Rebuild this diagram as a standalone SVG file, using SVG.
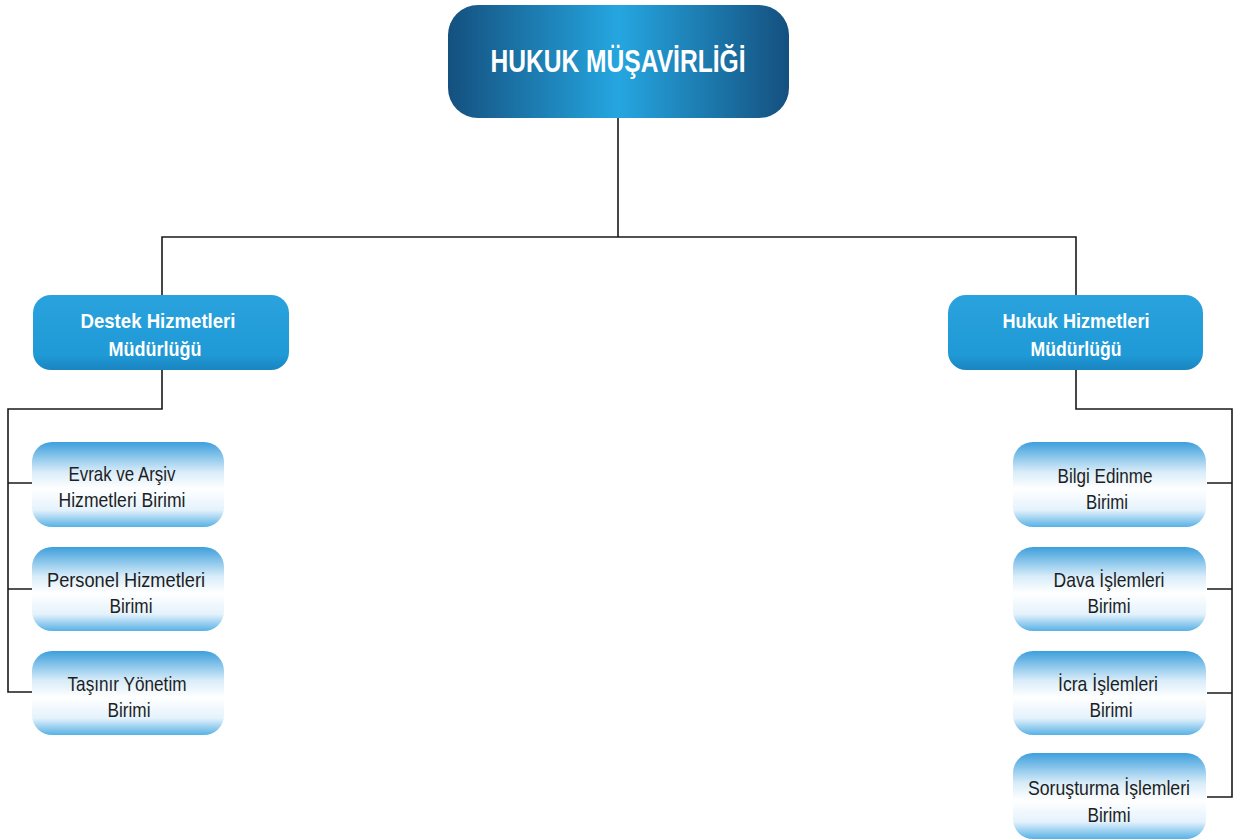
<svg xmlns="http://www.w3.org/2000/svg" width="1240" height="839" viewBox="0 0 1240 839">
<defs>
<linearGradient id="gTop" x1="0" y1="0" x2="1" y2="0">
<stop offset="0" stop-color="#14507f"/>
<stop offset="0.5" stop-color="#25a6e0"/>
<stop offset="1" stop-color="#14507f"/>
</linearGradient>
<linearGradient id="gMid" x1="0" y1="0" x2="0" y2="1">
<stop offset="0" stop-color="#2aa2dd"/>
<stop offset="0.8" stop-color="#1f9ad6"/>
<stop offset="1" stop-color="#1a84c0"/>
</linearGradient>
<linearGradient id="gLeaf" x1="0" y1="0" x2="0" y2="1">
<stop offset="0" stop-color="#3d9fdc"/>
<stop offset="0.35" stop-color="#d8ecf9"/>
<stop offset="0.55" stop-color="#ffffff"/>
<stop offset="0.8" stop-color="#e4f2fc"/>
<stop offset="1" stop-color="#58b1e6"/>
</linearGradient>
</defs>
<style>
.top{fill:url(#gTop)}
.mid{fill:url(#gMid)}
.leaf{fill:url(#gLeaf)}
.tw{fill:#ffffff;font-family:"Liberation Sans",Arial,sans-serif;text-anchor:middle;font-weight:bold}
.tm{font-size:21px}
.tb{fill:#1e1e1e;font-family:"Liberation Sans",Arial,sans-serif;text-anchor:middle;font-size:21px}
.c{fill:none;stroke:#1a1a1a;stroke-width:1.6}
</style>
<rect width="1240" height="839" fill="#ffffff"/>
<g id="connectors">
<path class="c" d="M618,118 V237 M162,295 V237 H1076 V295"/>
<path class="c" d="M162,370 V409 H8 V692 H33 M8,483 H33 M8,589 H33"/>
<path class="c" d="M1076,370 V409 H1232 V797 H1207 M1232,483 H1207 M1232,589 H1207 M1232,693 H1207"/>
</g>
<g id="hukuk-musavirligi">
<rect class="top" x="448" y="5" width="341" height="113" rx="30"/>
<text class="tw" x="618" y="72" font-size="31" textLength="255" lengthAdjust="spacingAndGlyphs">HUKUK MÜŞAVİRLİĞİ</text>
</g>
<g id="destek">
<rect class="mid" x="33" y="295" width="256" height="75" rx="18"/>
<text class="tw tm" x="158" y="328" textLength="155" lengthAdjust="spacingAndGlyphs">Destek Hizmetleri</text>
<text class="tw tm" x="155" y="356" textLength="93" lengthAdjust="spacingAndGlyphs">Müdürlüğü</text>
</g>
<g id="hukuk">
<rect class="mid" x="948" y="295" width="255" height="75" rx="18"/>
<text class="tw tm" x="1076" y="328" textLength="147" lengthAdjust="spacingAndGlyphs">Hukuk Hizmetleri</text>
<text class="tw tm" x="1076" y="356" textLength="91" lengthAdjust="spacingAndGlyphs">Müdürlüğü</text>
</g>
<g id="evrak">
<rect class="leaf" x="32" y="442" width="192" height="85" rx="20"/>
<text class="tb" x="122" y="481" textLength="107" lengthAdjust="spacingAndGlyphs">Evrak ve Arşiv</text>
<text class="tb" x="122" y="507" textLength="127" lengthAdjust="spacingAndGlyphs">Hizmetleri Birimi</text>
</g>
<g id="personel">
<rect class="leaf" x="32" y="547" width="192" height="84" rx="20"/>
<text class="tb" x="126" y="587" textLength="158" lengthAdjust="spacingAndGlyphs">Personel Hizmetleri</text>
<text class="tb" x="131" y="613" textLength="43" lengthAdjust="spacingAndGlyphs">Birimi</text>
</g>
<g id="tasinir">
<rect class="leaf" x="32" y="651" width="192" height="84" rx="20"/>
<text class="tb" x="127" y="691" textLength="119" lengthAdjust="spacingAndGlyphs">Taşınır Yönetim</text>
<text class="tb" x="129" y="717" textLength="43" lengthAdjust="spacingAndGlyphs">Birimi</text>
</g>
<g id="bilgi">
<rect class="leaf" x="1013" y="442" width="193" height="85" rx="20"/>
<text class="tb" x="1105" y="483" textLength="95" lengthAdjust="spacingAndGlyphs">Bilgi Edinme</text>
<text class="tb" x="1107" y="509" textLength="42" lengthAdjust="spacingAndGlyphs">Birimi</text>
</g>
<g id="dava">
<rect class="leaf" x="1013" y="547" width="193" height="84" rx="20"/>
<text class="tb" x="1109" y="587" textLength="111" lengthAdjust="spacingAndGlyphs">Dava İşlemleri</text>
<text class="tb" x="1109" y="613" textLength="43" lengthAdjust="spacingAndGlyphs">Birimi</text>
</g>
<g id="icra">
<rect class="leaf" x="1013" y="651" width="193" height="84" rx="20"/>
<text class="tb" x="1108" y="691" textLength="100" lengthAdjust="spacingAndGlyphs">İcra İşlemleri</text>
<text class="tb" x="1111" y="717" textLength="43" lengthAdjust="spacingAndGlyphs">Birimi</text>
</g>
<g id="sorusturma">
<rect class="leaf" x="1013" y="753" width="193" height="86" rx="20"/>
<text class="tb" x="1109" y="795" textLength="162" lengthAdjust="spacingAndGlyphs">Soruşturma İşlemleri</text>
<text class="tb" x="1109" y="822" textLength="43" lengthAdjust="spacingAndGlyphs">Birimi</text>
</g>
</svg>
